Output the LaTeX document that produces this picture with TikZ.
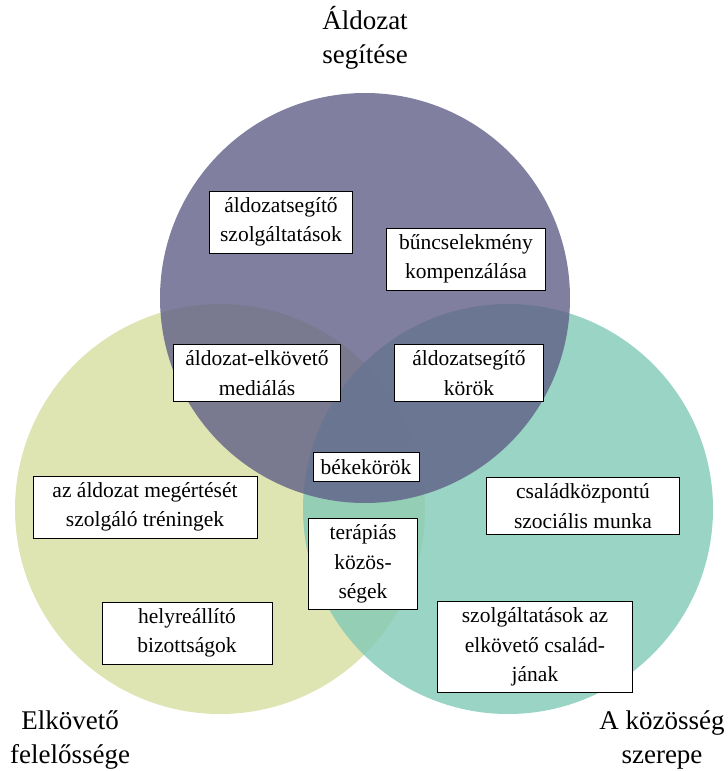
\documentclass[tikz,border=0pt]{standalone}
\usepackage{fontspec}
\setmainfont{Liberation Serif}
\usepackage{tikz}
\usetikzlibrary{positioning}

\definecolor{offendercol}{RGB}{222,229,178}
\definecolor{communitycol}{RGB}{129,201,182}
\definecolor{victimcol}{RGB}{96,95,136}

\begin{document}
\begin{tikzpicture}[x=1pt, y=-1pt]
          % Estilos para los cuadros de texto y los títulos
          \tikzstyle{box} = [draw, fill=white, line width=0.9pt, align=center, inner xsep=5pt, inner ysep=6.5pt, minimum height=29pt, font=\fontsize{21.5}{29.5}\selectfont]
          \tikzstyle{title} = [align=center, font=\fontsize{27}{34}\selectfont]
          \useasboundingbox (0,0) rectangle (728,771);

          % Los tres círculos
          \fill [offendercol] (220,509) circle (205pt);
          \fill [communitycol, fill opacity=0.8] (508,509) circle (205pt);
          \fill [victimcol, fill opacity=0.8] (365,298) circle (205pt);

          % Títulos
          \node [title] (victim) at (365,38) {Áldozat\\segítése};
          \node [title] (offender) at (70,740) {Elkövető\\felelőssége};
          \node [title] (community) at (662,740) {A közösség\\szerepe};

          % Cuadros
          \node [box, minimum width=143pt] (services) at (281,222) {áldozatsegítő\\szolgáltatások};
          \node [box, minimum width=159pt] (compensation) at (466,259) {bűncselekmény\\kompenzálása};
          \node [box, minimum width=167pt] (mediation) at (257,373) {áldozat-elkövető\\mediálás};
          \node [box, minimum width=149pt] (circles) at (469,373) {áldozatsegítő\\körök};
          \node [box, minimum width=106pt] (peace) at (366,467) {békekörök};
          \node [box, minimum width=109pt] (therapy) at (363,564) {terápiás\\közös-\\ségek};
          \node [box, minimum width=224pt] (training) at (145,507) {az áldozat megértését\\szolgáló tréningek};
          \node [box, minimum width=170pt] (boards) at (187,633) {helyreállító\\bizottságok};
          \node [box, minimum width=193pt] (family) at (583,506) {családközpontú\\szociális munka};
          \node [box, minimum width=195pt] (relatives) at (535,647) {szolgáltatások az\\elkövető család-\\jának};
        \end{tikzpicture}
\end{document}
